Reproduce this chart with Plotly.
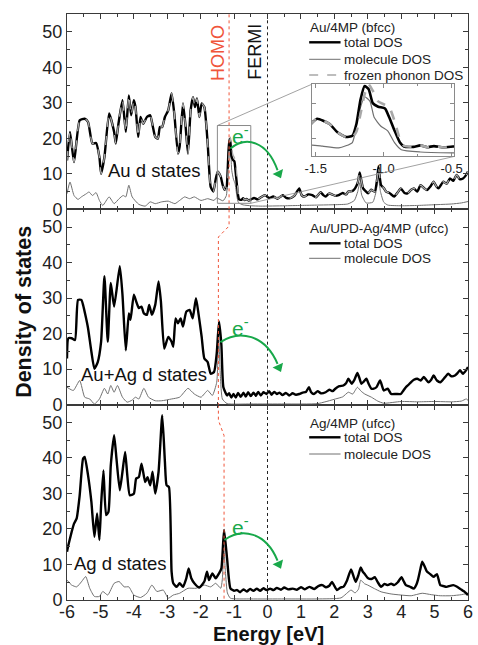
import plotly.graph_objects as go

# ---------------- density-of-states data (energy in eV, DOS in states/eV) ----------------
# Au/4MP (bfcc)
au_total_E = [-6.00, -5.91, -5.79, -5.62, -5.47, -5.37, -5.24, -5.13, -5.03, -4.98, -4.88, -4.74,
              -4.59, -4.54, -4.46, -4.34, -4.24, -4.15, -4.08, -4.00, -3.95, -3.87, -3.80, -3.72,
              -3.61, -3.51, -3.44, -3.36, -3.28, -3.22, -3.15, -3.07, -2.97, -2.87, -2.79, -2.68,
              -2.63, -2.53, -2.45, -2.38, -2.30, -2.23, -2.17, -2.11, -2.04, -1.97, -1.89, -1.79,
              -1.70, -1.62, -1.55, -1.49, -1.40, -1.34, -1.28, -1.23, -1.20, -1.17, -1.14, -1.11,
              -1.08, -1.04, -0.99, -0.96, -0.92, -0.88, -0.85, -0.78, -0.73, -0.68, -0.63, -0.56,
              -0.49, -0.40, -0.30, -0.20, -0.08, 0.05, 0.17, 0.30, 0.46, 0.56, 0.66, 0.80, 0.95,
              1.02, 1.10, 1.22, 1.34, 1.45, 1.59, 1.67, 1.74, 1.85, 1.93, 2.03, 2.13, 2.25, 2.35,
              2.42, 2.55, 2.62, 2.70, 2.76, 2.81, 2.86, 2.93, 3.01, 3.10, 3.21, 3.28, 3.32, 3.36,
              3.40, 3.48, 3.55, 3.65, 3.79, 3.90, 3.99, 4.10, 4.19, 4.30, 4.38, 4.48, 4.58, 4.68,
              4.77, 4.88, 4.97, 5.05, 5.12, 5.20, 5.26, 5.36, 5.46, 5.56, 5.66, 5.75, 5.85, 5.93, 6.00]
au_total = [13.8, 21.8, 13.3, 25.1, 25.5, 24.6, 18.5, 18.7, 14.7, 10.0, 14.7, 27.0,
            21.8, 18.5, 24.1, 30.7, 21.8, 32.1, 26.5, 30.7, 28.8, 20.4, 26.0, 24.1,
            26.0, 26.5, 23.7, 20.4, 19.9, 23.2, 23.2, 26.0, 27.9, 32.6, 27.0, 15.7,
            17.6, 29.8, 23.2, 15.7, 27.9, 31.6, 28.8, 31.2, 26.0, 29.8, 28.8, 18.5,
            6.3, 5.0, 8.5, 10.6, 9.2, 6.8, 5.5, 5.8, 9.2, 16.0, 19.8, 18.9,
            15.0, 14.0, 13.5, 11.1, 7.3, 3.9, 2.8, 2.7, 3.1, 2.6, 2.9, 2.5,
            2.8, 3.2, 2.8, 3.4, 4.0, 3.2, 3.6, 3.0, 4.0, 3.2, 3.1, 3.8, 5.9,
            4.0, 3.6, 4.2, 4.0, 3.4, 4.8, 4.0, 3.6, 4.5, 4.2, 3.8, 4.0, 4.6, 4.2,
            5.0, 5.2, 5.9, 7.5, 10.4, 8.0, 5.9, 5.2, 4.5, 5.5, 5.0, 8.5, 12.0, 9.0,
            6.8, 6.0, 5.0, 4.6, 3.6, 4.8, 5.9, 4.6, 4.5, 5.5, 5.9, 5.0, 6.8, 6.0,
            5.4, 6.5, 7.8, 6.5, 5.9, 7.0, 7.8, 7.2, 8.7, 8.0, 9.7, 8.5, 8.7, 9.5, 10.6]
au_phonon = [13.8, 21.8, 13.3, 25.1, 25.5, 24.6, 18.5, 18.7, 14.7, 10.0, 14.7, 27.0,
             21.8, 18.5, 24.1, 30.7, 21.8, 32.1, 26.5, 30.7, 28.8, 20.4, 26.0, 24.1,
             26.0, 26.5, 23.7, 20.4, 19.9, 23.2, 23.2, 26.0, 27.9, 32.6, 27.0, 15.7,
             17.6, 29.8, 23.2, 15.7, 27.9, 31.6, 28.8, 31.2, 26.0, 29.8, 28.8, 18.5,
             6.3, 5.0, 8.5, 10.6, 9.2, 6.8, 5.5, 5.4, 7.0, 12.0, 17.5, 20.3,
             18.5, 15.5, 14.5, 14.0, 10.0, 4.8, 3.0, 2.7, 3.1, 2.6, 2.9, 2.5,
             2.8, 3.2, 2.8, 3.4, 4.0, 3.2, 3.6, 3.0, 4.0, 3.2, 3.1, 3.8, 5.9,
             4.0, 3.6, 4.2, 4.0, 3.4, 4.8, 4.0, 3.6, 4.5, 4.2, 3.8, 4.0, 4.6, 4.2,
             5.0, 5.2, 5.9, 7.5, 10.4, 8.0, 5.9, 5.2, 4.5, 5.5, 5.0, 8.5, 12.0, 9.0,
             6.8, 6.0, 5.0, 4.6, 3.6, 4.8, 5.9, 4.6, 4.5, 5.5, 5.9, 5.0, 6.8, 6.0,
             5.4, 6.5, 7.8, 6.5, 5.9, 7.0, 7.8, 7.2, 8.7, 8.0, 9.7, 8.5, 8.7, 9.5, 10.6]
au_mol_E = [-6.00, -5.91, -5.79, -5.67, -5.57, -5.42, -5.34, -5.24, -5.13, -5.03, -4.93, -4.74,
            -4.59, -4.44, -4.32, -4.24, -4.15, -4.05, -3.85, -3.66, -3.51, -3.36, -3.17, -2.97,
            -2.77, -2.63, -2.48, -2.33, -2.19, -1.99, -1.79, -1.60, -1.53, -1.45, -1.33, -1.23,
            -1.19, -1.14, -1.10, -1.07, -1.02, -0.97, -0.92, -0.87, -0.73, -0.49, -0.20, 0.50,
            1.00, 1.50, 2.00, 2.40, 2.60, 2.70, 2.76, 2.82, 2.95, 3.15, 3.25, 3.32, 3.38, 3.48,
            3.60, 4.00, 4.50, 5.00, 5.50, 5.80, 6.00]
au_mol = [4.4, 7.7, 3.9, 2.8, 3.5, 4.4, 4.9, 3.9, 4.7, 2.5, 1.1, 3.5,
          1.6, 3.0, 3.9, 3.5, 6.8, 3.5, 1.4, 0.9, 2.1, 1.6, 2.1, 2.3,
          1.6, 2.5, 3.5, 3.0, 3.5, 2.5, 3.0, 2.5, 3.2, 2.9, 2.4, 3.9,
          11.1, 16.8, 15.5, 11.0, 8.5, 7.2, 3.9, 1.9, 1.25, 1.0, 0.9, 1.0,
          1.1, 1.2, 1.3, 1.5, 2.5, 5.0, 7.5, 4.0, 1.8, 2.0, 5.0, 9.0, 5.0, 2.0,
          1.2, 1.0, 1.1, 1.3, 1.5, 1.8, 2.2]

# Au/UPD-Ag/4MP (ufcc)
upd_total_E = [-6.00, -5.96, -5.86, -5.76, -5.67, -5.57, -5.52, -5.44, -5.37, -5.27, -5.18, -5.08,
               -4.98, -4.88, -4.78, -4.69, -4.59, -4.42, -4.34, -4.24, -4.15, -4.10, -4.00, -3.93,
               -3.85, -3.77, -3.70, -3.61, -3.54, -3.46, -3.36, -3.26, -3.19, -3.09, -2.97, -2.87,
               -2.82, -2.75, -2.68, -2.60, -2.53, -2.43, -2.33, -2.24, -2.14, -2.06, -1.97, -1.89,
               -1.79, -1.70, -1.60, -1.52, -1.45, -1.38, -1.32, -1.21, -1.15, -1.08, -1.02, -0.95,
               -0.88, -0.80, -0.72, -0.65, -0.58, -0.50, -0.42, -0.35, -0.28, -0.20, -0.12, -0.03,
               0.05, 0.12, 0.20, 0.28, 0.36, 0.45, 0.55, 0.65, 0.75, 0.85, 0.95, 1.05, 1.15, 1.24,
               1.30, 1.39, 1.50, 1.60, 1.74, 1.85, 1.95, 2.03, 2.15, 2.27, 2.35, 2.42, 2.52, 2.60,
               2.69, 2.75, 2.81, 2.88, 2.96, 3.03, 3.11, 3.18, 3.26, 3.37, 3.48, 3.60, 3.70, 3.85,
               3.99, 4.07, 4.14, 4.22, 4.29, 4.38, 4.48, 4.58, 4.68, 4.75, 4.82, 4.90, 4.97, 5.07,
               5.17, 5.30, 5.41, 5.50, 5.61, 5.68, 5.76, 5.85, 5.95, 6.00]
upd_total = [13.0, 18.7, 18.7, 18.2, 29.5, 29.5, 28.1, 24.8, 21.5, 14.9, 10.1, 12.0,
             17.7, 36.2, 17.7, 34.3, 27.6, 39.0, 31.0, 15.3, 25.7, 23.9, 31.0, 29.1,
             27.2, 27.6, 25.7, 25.3, 28.1, 25.3, 28.1, 34.7, 29.1, 15.8, 19.1, 17.7,
             16.3, 24.3, 22.9, 24.3, 22.0, 26.2, 26.7, 24.3, 30.0, 25.3, 19.1, 13.0,
             12.0, 8.7, 9.2, 14.4, 23.4, 16.8, 4.9, 2.6, 3.2, 2.0, 3.0, 2.0,
             3.3, 2.2, 3.4, 2.3, 3.5, 2.4, 3.4, 2.5, 3.6, 2.6, 3.5, 3.0,
             3.8, 2.8, 3.6, 3.0, 3.4, 2.7, 3.3, 2.6, 3.2, 2.8, 3.0, 3.4, 3.6, 4.9,
             3.6, 3.0, 3.8, 3.2, 3.5, 4.2, 3.8, 4.5, 5.2, 5.4, 6.0, 7.3, 5.9, 7.0,
             8.9, 7.5, 5.9, 6.5, 7.3, 5.8, 4.5, 4.5, 4.9, 6.8, 4.0, 4.5, 3.0, 3.0,
             3.0, 4.0, 4.9, 5.6, 6.3, 7.0, 7.3, 6.8, 7.8, 7.0, 6.3, 7.0, 8.2, 6.8,
             6.3, 7.6, 8.7, 8.0, 8.2, 8.8, 9.7, 8.7, 9.8, 10.6]
upd_mol_E = [-6.00, -5.81, -5.62, -5.47, -5.32, -5.18, -5.03, -4.88, -4.78, -4.69, -4.59, -4.49,
             -4.34, -4.20, -4.05, -3.95, -3.85, -3.70, -3.56, -3.36, -3.17, -2.87, -2.63, -2.38,
             -2.19, -1.99, -1.79, -1.65, -1.52, -1.46, -1.41, -1.35, -1.21, -0.50, 0.50, 1.50,
             2.03, 2.25, 2.42, 2.55, 2.69, 2.80, 2.91, 3.11, 3.30, 3.48, 4.00, 4.50, 5.00, 5.50,
             5.80, 5.95, 6.00]
upd_mol = [4.9, 4.0, 6.8, 2.1, 1.6, 0.2, 1.6, 4.6, 3.0, 5.4, 3.5, 5.4,
           2.1, 0.7, 1.3, 2.1, 1.6, 4.6, 2.1, 1.1, 1.1, 1.6, 2.1, 4.6,
           3.0, 2.1, 4.0, 2.6, 6.3, 19.0, 8.0, 1.6, 0.3, 0.2, 0.2, 0.3,
           1.6, 2.2, 3.5, 3.0, 4.9, 3.8, 3.0, 2.1, 1.0, 0.4, 0.9, 0.8, 0.9, 0.8,
           1.0, 1.6, 1.2]

# Ag/4MP (ufcc)
ag_total_E = [-6.00, -5.96, -5.86, -5.79, -5.71, -5.62, -5.52, -5.47, -5.37, -5.27, -5.18, -5.10,
              -5.03, -4.98, -4.91, -4.83, -4.76, -4.69, -4.59, -4.52, -4.42, -4.34, -4.26, -4.20,
              -4.12, -4.00, -3.93, -3.85, -3.77, -3.66, -3.59, -3.51, -3.44, -3.36, -3.26, -3.15,
              -3.07, -3.02, -2.95, -2.87, -2.82, -2.72, -2.63, -2.53, -2.43, -2.36, -2.28, -2.19,
              -2.04, -1.89, -1.81, -1.75, -1.65, -1.55, -1.45, -1.38, -1.30, -1.21, -1.11, -1.00,
              -0.91, -0.82, -0.72, -0.62, -0.52, -0.42, -0.32, -0.22, -0.12, -0.03, 0.08, 0.18,
              0.28, 0.40, 0.50, 0.62, 0.76, 0.88, 1.00, 1.12, 1.25, 1.40, 1.52, 1.64, 1.75, 1.85,
              1.93, 2.00, 2.08, 2.18, 2.27, 2.38, 2.50, 2.58, 2.64, 2.72, 2.79, 2.85, 2.91, 3.00,
              3.11, 3.21, 3.30, 3.40, 3.50, 3.60, 3.70, 3.79, 3.90, 4.01, 4.08, 4.14, 4.25, 4.38,
              4.45, 4.50, 4.57, 4.63, 4.70, 4.77, 4.87, 4.97, 5.07, 5.12, 5.17, 5.27, 5.36, 5.46,
              5.56, 5.66, 5.76, 5.85, 5.90, 6.00]
ag_total = [13.6, 15.4, 19.2, 21.5, 23.0, 29.5, 39.8, 40.3, 35.1, 27.6, 17.8, 24.4,
            16.9, 26.7, 36.5, 23.9, 24.8, 37.9, 46.4, 39.8, 30.9, 36.1, 41.7, 35.6,
            29.5, 29.9, 34.2, 34.6, 38.4, 33.2, 34.6, 32.3, 36.1, 30.0, 36.1, 52.0,
            38.9, 32.3, 31.8, 8.0, 4.7, 3.7, 4.7, 3.7, 6.1, 8.9, 6.1, 4.7,
            3.5, 5.2, 8.0, 5.6, 7.5, 6.1, 7.5, 8.9, 19.7, 11.7, 3.3, 2.6,
            2.8, 2.2, 3.0, 2.4, 3.1, 2.6, 3.2, 2.6, 3.3, 2.8, 3.2, 2.8,
            3.4, 2.9, 3.5, 3.0, 3.2, 2.9, 3.6, 3.0, 3.7, 3.1, 3.9, 4.2, 3.6, 4.0,
            5.1, 4.0, 2.8, 3.5, 3.7, 5.5, 8.6, 6.5, 5.1, 7.0, 9.2, 8.0, 7.3, 6.2,
            5.9, 6.4, 5.0, 3.7, 4.5, 4.2, 4.6, 4.2, 5.0, 6.4, 5.2, 4.2, 3.8, 3.2,
            4.2, 5.6, 8.5, 10.8, 9.5, 8.0, 7.3, 6.5, 7.3, 5.8, 4.2, 3.9, 3.7, 4.0,
            4.2, 3.8, 3.2, 2.6, 2.3, 1.4]
ag_mol_E = [-6.00, -5.86, -5.71, -5.57, -5.44, -5.32, -5.18, -5.03, -4.93, -4.78, -4.59, -4.44,
            -4.29, -4.15, -4.00, -3.80, -3.61, -3.46, -3.31, -3.12, -2.97, -2.82, -2.63, -2.38,
            -2.14, -1.89, -1.70, -1.55, -1.40, -1.35, -1.31, -1.26, -1.20, -1.11, -0.50, 0.50,
            1.50, 2.20, 2.50, 2.62, 2.72, 2.79, 2.90, 3.00, 3.20, 3.40, 3.70, 3.99, 4.30, 4.63,
            4.90, 5.17, 5.50, 5.80, 6.00]
ag_mol = [5.6, 4.2, 3.7, 5.1, 6.6, 3.3, 1.0, 1.0, 2.4, 1.4, 4.7, 5.2,
          3.7, 3.7, 1.4, 0.7, 1.9, 4.2, 2.4, 2.8, 0.5, 1.4, 1.9, 3.3,
          3.3, 4.2, 3.7, 4.7, 3.3, 6.0, 15.5, 8.0, 2.0, 0.5, 0.3, 0.3,
          0.3, 0.6, 2.8, 2.0, 3.0, 5.6, 4.6, 4.2, 3.2, 2.3, 1.7, 1.4, 1.2, 1.9,
          1.5, 1.2, 1.2, 1.5, 1.9]

# HOMO positions (eV) per panel, top to bottom, and the Fermi level
homo_levels = [-1.15, -1.47, -1.30]
fermi_level = 0.0

panel_titles = ["Au/4MP (bfcc)", "Au/UPD-Ag/4MP (ufcc)", "Ag/4MP (ufcc)"]
d_state_labels = ["Au d states", "Au+Ag d states", "Ag d states"]
x_ticks = [-6, -5, -4, -3, -2, -1, 0, 1, 2, 3, 4, 5, 6]
y_ticks = [0, 10, 20, 30, 40, 50]

# ---------------- geometry / style ----------------
W, H = 478, 645
ML, MR, MT, MB = 67, 2, 14, 45
PW, PH = W - ML - MR, H - MT - MB
XR = [-6, 6]
YR = [0, 55]
FONT = "Liberation Sans, Arial, sans-serif"
GREEN = "#18a84a"
RED = "#f0553a"
MOL_GREY = "#707070"
PHONON_GREY = "#a8a8a8"
FRAME = "#3a3a3a"


def xp(px):
    return (px - ML) / PW


def yp(py):
    return (H - MB - py) / PH


# axis ids: bottom panel = x/y, middle = x2/y2, top = x3/y3, inset = x4/y4
panels = [
    dict(x="x3", y="y3", dom=[2 / 3, 1.0]),
    dict(x="x2", y="y2", dom=[1 / 3, 2 / 3]),
    dict(x="x", y="y", dom=[0.0, 1 / 3]),
]

fig = go.Figure()

series = [
    (au_total_E, au_total, au_mol_E, au_mol),
    (upd_total_E, upd_total, upd_mol_E, upd_mol),
    (ag_total_E, ag_total, ag_mol_E, ag_mol),
]

spl = dict(shape="spline", smoothing=0.5)

for p, (tE, tV, mE, mV) in zip(panels, series):
    fig.add_trace(go.Scatter(x=mE, y=mV, mode="lines", xaxis=p["x"], yaxis=p["y"],
                             line=dict(color=MOL_GREY, width=1, **spl), hoverinfo="skip"))
    fig.add_trace(go.Scatter(x=tE, y=tV, mode="lines", xaxis=p["x"], yaxis=p["y"],
                             line=dict(color="black", width=2.4, **spl), hoverinfo="skip"))

fig.add_trace(go.Scatter(x=au_total_E, y=au_phonon, mode="lines", xaxis="x3", yaxis="y3",
                         line=dict(color=PHONON_GREY, width=1.3, dash="dash", **spl),
                         hoverinfo="skip"))

# inset: zoom of the HOMO region of Au/4MP
fig.add_trace(go.Scatter(x=au_mol_E, y=au_mol, mode="lines", xaxis="x4", yaxis="y4",
                         line=dict(color=MOL_GREY, width=1.2, **spl), hoverinfo="skip"))
fig.add_trace(go.Scatter(x=au_total_E, y=au_total, mode="lines", xaxis="x4", yaxis="y4",
                         line=dict(color="black", width=2.6, **spl), hoverinfo="skip"))
fig.add_trace(go.Scatter(x=au_total_E, y=au_phonon, mode="lines", xaxis="x4", yaxis="y4",
                         line=dict(color=PHONON_GREY, width=2.6, dash="dash", **spl),
                         hoverinfo="skip"))

# HOMO guide line: continues through the panels, stepping to each system's HOMO
homo_breaks = [None, (50.3, 47.2), (50.6, 46.3)]
for i, p in enumerate(panels):
    if i == 0:
        hx, hy = [homo_levels[0], homo_levels[0]], [YR[0], YR[1]]
    else:
        up, low = homo_breaks[i]
        hx = [homo_levels[i - 1], homo_levels[i - 1], homo_levels[i], homo_levels[i]]
        hy = [YR[1], up, low, YR[0]]
    fig.add_trace(go.Scatter(x=hx, y=hy, mode="lines", xaxis=p["x"], yaxis=p["y"],
                             line=dict(color=RED, width=1, dash="dot"), hoverinfo="skip"))
    fig.add_trace(go.Scatter(x=[fermi_level, fermi_level], y=YR, mode="lines",
                             xaxis=p["x"], yaxis=p["y"],
                             line=dict(color="#222", width=1, dash="dot"), hoverinfo="skip"))

# ---------------- axes ----------------
common_x = dict(range=XR, showline=True, linecolor=FRAME, linewidth=1, mirror="allticks",
                ticks="inside", ticklen=5, tickwidth=1, tickcolor=FRAME, tickvals=x_ticks,
                minor=dict(ticks="inside", ticklen=3, dtick=0.5, tickcolor=FRAME),
                showgrid=False, zeroline=False, fixedrange=True)
common_y = dict(range=YR, showline=True, linecolor=FRAME, linewidth=1, mirror="allticks",
                ticks="inside", ticklen=5, tickwidth=1, tickcolor=FRAME, tickvals=y_ticks,
                minor=dict(ticks="inside", ticklen=3, dtick=5, tickcolor=FRAME),
                showgrid=False, zeroline=False, fixedrange=True,
                tickfont=dict(family=FONT, size=18, color="#222"))

layout = dict(
    width=W, height=H, margin=dict(l=ML, r=MR, t=MT, b=MB),
    paper_bgcolor="white", plot_bgcolor="white", showlegend=False,
    font=dict(family=FONT, color="#222"),
)
for p in panels:
    xa = "xaxis" + p["x"][1:]
    ya = "yaxis" + p["y"][1:]
    xd = dict(common_x, anchor=p["y"], domain=[0, 1])
    if p["x"] == "x":
        xd.update(showticklabels=True, ticktext=[str(t) for t in x_ticks],
                  ticklabelstandoff=-5,
                  tickfont=dict(family=FONT, size=18, color="#222"))
    else:
        xd.update(showticklabels=False, matches="x")
    layout[xa] = xd
    layout[ya] = dict(common_y, anchor=p["x"], domain=p["dom"])

# inset placement expressed in the top panel's data coordinates
INSET_E = (1.32, 5.59)
INSET_V = (14.9, 35.2)
ZOOM_BOX = dict(e0=-1.5, e1=-0.5, v0=1.7, v1=23.6)


def top_dom_x(e):
    return (e - XR[0]) / (XR[1] - XR[0])


def top_dom_y(v):
    return 2 / 3 + (v - YR[0]) / (YR[1] - YR[0]) / 3


INSET_GREY = "#8a8a8a"
layout["xaxis4"] = dict(domain=[top_dom_x(INSET_E[0]), top_dom_x(INSET_E[1])], anchor="y4",
                        range=[-1.53, -0.48], showline=True, linecolor=INSET_GREY, mirror="allticks",
                        ticks="inside", ticklen=4, tickcolor=INSET_GREY,
                        tickvals=[-1.5, -1.0, -0.5], ticktext=["-1.5", "-1.0", "-0.5"],
                        tickfont=dict(family=FONT, size=13, color="#222"),
                        minor=dict(ticks="inside", ticklen=2, dtick=0.25, tickcolor=INSET_GREY),
                        showgrid=False, zeroline=False, fixedrange=True)
layout["yaxis4"] = dict(domain=[top_dom_y(INSET_V[0]), top_dom_y(INSET_V[1])], anchor="x4",
                        range=[0, 20.3], showline=True, linecolor=INSET_GREY, mirror="allticks",
                        ticks="inside", ticklen=4, tickcolor=INSET_GREY, tickvals=[5, 10, 15],
                        showticklabels=False, showgrid=False, zeroline=False, fixedrange=True)

shapes = []
# zoom window and its connectors to the inset
shapes.append(dict(type="rect", xref="x3", yref="y3", x0=ZOOM_BOX["e0"], x1=ZOOM_BOX["e1"],
                   y0=ZOOM_BOX["v0"], y1=ZOOM_BOX["v1"], line=dict(color=INSET_GREY, width=1)))
shapes.append(dict(type="line", xref="x3", yref="y3", x0=ZOOM_BOX["e0"], y0=ZOOM_BOX["v1"],
                   x1=INSET_E[0], y1=INSET_V[1], line=dict(color=INSET_GREY, width=0.8)))
shapes.append(dict(type="line", xref="x3", yref="y3", x0=ZOOM_BOX["e1"], y0=ZOOM_BOX["v0"],
                   x1=INSET_E[1], y1=INSET_V[0], line=dict(color=INSET_GREY, width=0.8)))

annotations = []

# electron-transfer arrows (HOMO peak -> above the Fermi level)
arrow_start = [(-1.11, 17.1), (-1.41, 17.6), (-1.29, 16.9)]
arrow_end = [(0.30, 11.0), (0.30, 11.5), (0.30, 11.1)]
e_label_pos = [(-0.80, 21.0), (-0.80, 21.9), (-0.80, 20.7)]
for p, (e0, v0), (e3, v3), (el, vl) in zip(panels, arrow_start, arrow_end, e_label_pos):
    d = e3 - e0
    e1, v1 = e0 + 0.33 * d, v0 + 3.6
    e2, v2 = e3 - 0.22 * d, v0 + 2.2
    shapes.append(dict(type="path", xref=p["x"], yref=p["y"],
                       path=f"M {e0},{v0} C {e1},{v1} {e2},{v2} {e3},{v3}",
                       line=dict(color=GREEN, width=2)))
    # arrow head, pointing along the end tangent of the curve
    fig.add_trace(go.Scatter(x=[e3 + 0.04], y=[v3 - 1.0], mode="markers",
                             xaxis=p["x"], yaxis=p["y"], hoverinfo="skip",
                             marker=dict(symbol="triangle-down", size=10, angle=-25,
                                         color=GREEN, line=dict(width=0))))
    annotations.append(dict(x=el, y=vl, xref=p["x"], yref=p["y"], text="e<sup>-</sup>",
                            showarrow=False, xanchor="center", yanchor="middle",
                            font=dict(family=FONT, size=21, color=GREEN)))

# d-band labels
d_label_pos = [(-3.38, 10.8), (-3.70, 8.6), (-4.40, 10.3)]
for p, lab, (e, v) in zip(panels, d_state_labels, d_label_pos):
    annotations.append(dict(x=e, y=v, xref=p["x"], yref=p["y"], text=lab, showarrow=False,
                            xanchor="center", yanchor="middle",
                            font=dict(family=FONT, size=18.5, color="#111")))

# HOMO / FERMI labels
annotations.append(dict(x=xp(221), y=yp(53), xref="paper", yref="paper", text="HOMO",
                        textangle=-90, showarrow=False, xanchor="center", yanchor="middle",
                        font=dict(family=FONT, size=18, color=RED)))
annotations.append(dict(x=xp(258.5), y=yp(52), xref="paper", yref="paper", text="FERMI",
                        textangle=-90, showarrow=False, xanchor="center", yanchor="middle",
                        font=dict(family=FONT, size=18, color="#111")))

# per-panel legends
legend_rows = [
    dict(title_y=27.5, items=[("total DOS", 42.3, "total"), ("molecule DOS", 59.3, "mol"),
                              ("frozen phonon DOS", 75.0, "phonon")]),
    dict(title_y=228.0, items=[("total DOS", 243.3, "total"), ("molecule DOS", 258.3, "mol")]),
    dict(title_y=423.0, items=[("total DOS", 437.3, "total"), ("molecule DOS", 454.0, "mol")]),
]
line_styles = dict(total=dict(color="black", width=2.4),
                   mol=dict(color=MOL_GREY, width=1),
                   phonon=dict(color=PHONON_GREY, width=1.4, dash="dash"))
LEG_FONT = dict(family=FONT, size=13.5, color="#222")
for title, row in zip(panel_titles, legend_rows):
    annotations.append(dict(x=xp(313), y=yp(row["title_y"]), xref="paper", yref="paper",
                            text=title, showarrow=False, xanchor="left", yanchor="middle",
                            font=LEG_FONT))
    for label, ly, style in row["items"]:
        shapes.append(dict(type="line", xref="paper", yref="paper", x0=xp(314), x1=xp(346),
                           y0=yp(ly), y1=yp(ly), line=line_styles[style]))
        annotations.append(dict(x=xp(347), y=yp(ly), xref="paper", yref="paper", text=label,
                                showarrow=False, xanchor="left", yanchor="middle", font=LEG_FONT))

# axis titles
annotations.append(dict(x=xp(273), y=yp(634), xref="paper", yref="paper",
                        text="<b>Energy [eV]</b>", showarrow=False,
                        xanchor="center", yanchor="middle",
                        font=dict(family=FONT, size=20, color="#111")))
annotations.append(dict(x=xp(23), y=yp(312), xref="paper", yref="paper",
                        text="<b>Density of states</b>", textangle=-90, showarrow=False,
                        xanchor="center", yanchor="middle",
                        font=dict(family=FONT, size=21.5, color="#111")))

layout["shapes"] = shapes
layout["annotations"] = annotations
fig.update_layout(**layout)

fig.write_html("out.html")
